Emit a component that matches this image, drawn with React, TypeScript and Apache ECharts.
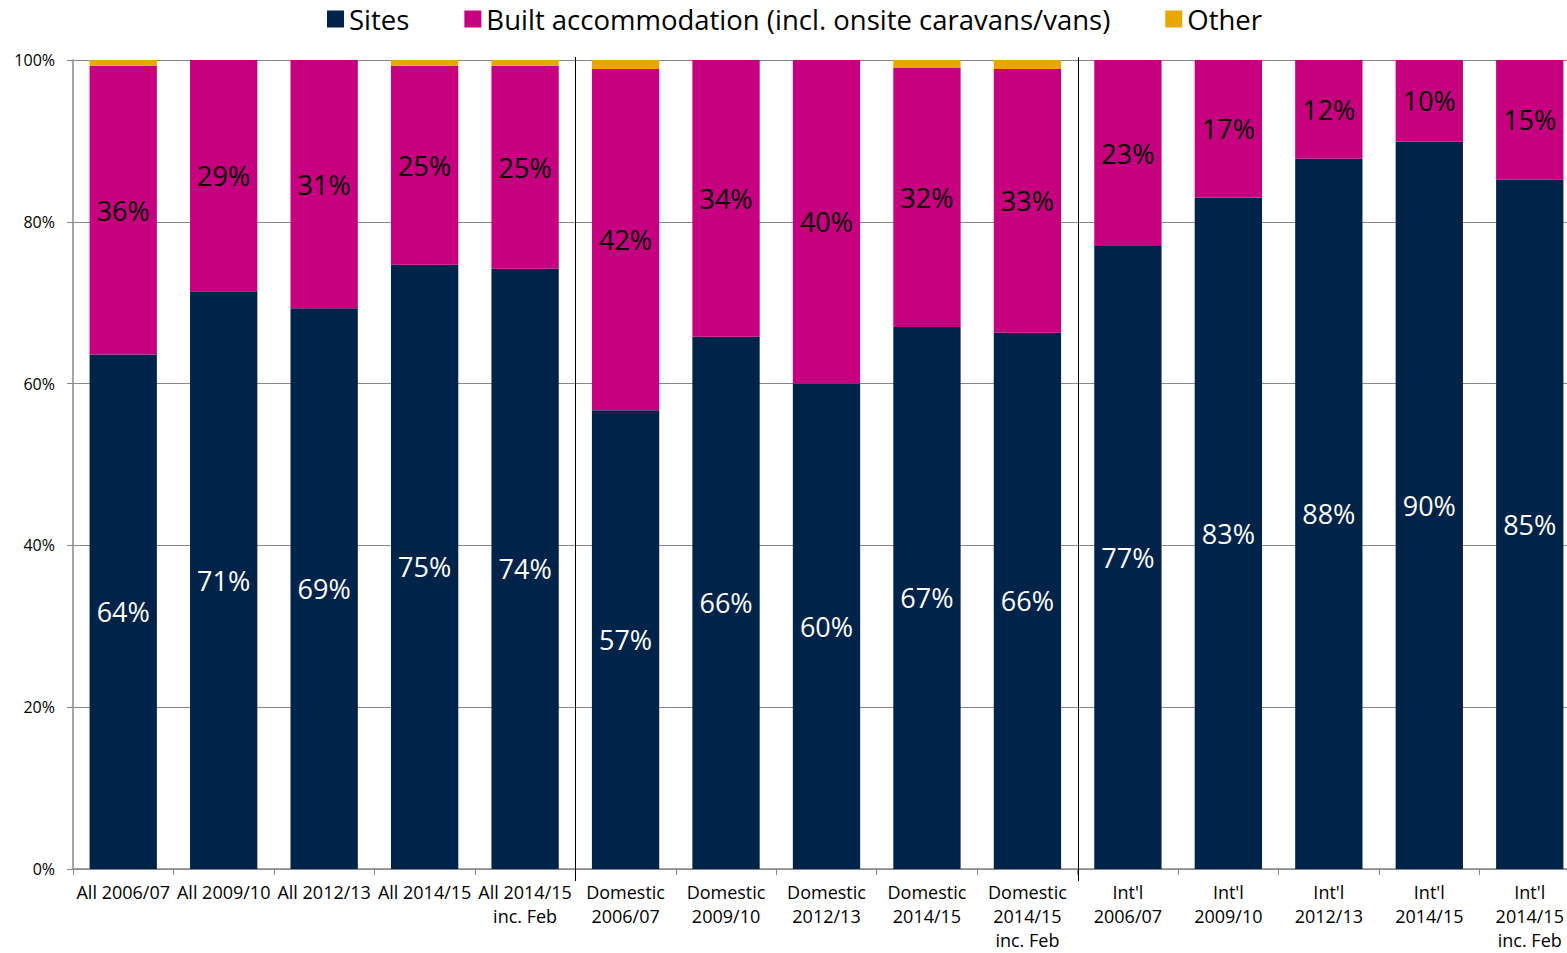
import React, { useEffect, useRef } from "react";
import * as echarts from "echarts";

const categories = [
  "All 2006/07",
  "All 2009/10",
  "All 2012/13",
  "All 2014/15",
  "All 2014/15\ninc. Feb",
  "Domestic\n2006/07",
  "Domestic\n2009/10",
  "Domestic\n2012/13",
  "Domestic\n2014/15",
  "Domestic\n2014/15\ninc. Feb",
  "Int'l\n2006/07",
  "Int'l\n2009/10",
  "Int'l\n2012/13",
  "Int'l\n2014/15",
  "Int'l\n2014/15\ninc. Feb",
];

const sites = [63.6, 71.4, 69.3, 74.7, 74.2, 56.7, 65.8, 60.0, 67.0, 66.3, 77.0, 83.0, 87.8, 89.9, 85.2];
const built = [35.7, 28.6, 30.7, 24.6, 25.1, 42.2, 34.2, 40.0, 32.0, 32.6, 23.0, 17.0, 12.2, 10.1, 14.8];
const other = [0.7, 0, 0, 0.7, 0.7, 1.1, 0, 0, 1.0, 1.1, 0, 0, 0, 0, 0];

const seriesNames = ["Sites", "Built accommodation (incl. onsite caravans/vans)", "Other"];
const yTicks = [0, 20, 40, 60, 80, 100];
const groupBreaks = [4, 9]; // separator after these category indices

const FONT = "'Open Sans', 'Noto Sans', sans-serif";
const C_SITES = "#00234A";
const C_BUILT = "#C6007E";
const C_OTHER = "#E8A700";

export default function App() {
  const ref = useRef<HTMLDivElement>(null);
  useEffect(() => {
    if (!ref.current) return;
    const chart = echarts.init(ref.current, null, { renderer: "svg" });
    const fmt = (p: any) => Math.round(p.value) + "%";
    chart.setOption({
      animation: false,
      textStyle: { fontFamily: FONT },
      legend: {
        top: 0,
        left: 322,
        itemWidth: 17,
        itemHeight: 17,
        itemGap: 55,
        icon: "rect",
        textStyle: { fontSize: 27.5, color: "#000", fontFamily: FONT },
        data: seriesNames,
      },
      grid: {
        left: 73,
        width: 1507,
        top: 60,
        height: 809,
        containLabel: false,
        outerBoundsMode: "none",
      },
      xAxis: {
        type: "category",
        data: categories,
        axisLine: { lineStyle: { color: "#888", width: 1.5 } },
        axisTick: { show: true, length: 6, lineStyle: { color: "#888" } },
        axisLabel: {
          interval: 0,
          fontSize: 18,
          lineHeight: 24,
          color: "#000",
          margin: 11,
          fontFamily: FONT,
          align: "center",
          hideOverlap: false,
        },
      },
      yAxis: {
        type: "value",
        min: yTicks[0],
        max: yTicks[yTicks.length - 1],
        interval: 20,
        axisLine: { show: true, lineStyle: { color: "#888", width: 1.5 } },
        axisTick: { show: true, length: 6, lineStyle: { color: "#888" } },
        axisLabel: { formatter: "{value}%", fontSize: 16, color: "#000", margin: 18, fontFamily: FONT },
        splitLine: { lineStyle: { color: "#888", width: 1 } },
      },
      series: [
        {
          name: seriesNames[0],
          type: "bar",
          stack: "s",
          data: sites,
          barWidth: "67%",
          itemStyle: { color: C_SITES },
          label: { show: true, position: "inside", color: "#fff", fontSize: 27, fontFamily: FONT, formatter: fmt },
        },
        {
          name: seriesNames[1],
          type: "bar",
          stack: "s",
          data: built,
          itemStyle: { color: C_BUILT },
          label: { show: true, position: "inside", color: "#000", fontSize: 27, fontFamily: FONT, formatter: fmt },
        },
        {
          name: seriesNames[2],
          type: "bar",
          stack: "s",
          data: other,
          itemStyle: { color: C_OTHER },
          label: { show: false },
        },
      ],
    });
    const y0 = chart.convertToPixel({ yAxisIndex: 0 }, 0) as number;
    const y1 = chart.convertToPixel({ yAxisIndex: 0 }, 100) as number;
    const lines = groupBreaks.map((i) => {
      const a = chart.convertToPixel({ xAxisIndex: 0 }, i) as number;
      const b = chart.convertToPixel({ xAxisIndex: 0 }, i + 1) as number;
      const x = Math.round((a + b) / 2) + 0.5;
      return {
        type: "line",
        shape: { x1: x, y1: y1 - 3, x2: x, y2: y0 + 12 },
        style: { stroke: "#000", lineWidth: 1 },
        z: 100,
      };
    });
    chart.setOption({ graphic: lines });
    return () => chart.dispose();
  }, []);
  return (
    <div
      ref={ref}
      style={{ position: "fixed", left: 0, top: 0, width: 1567, height: 953, background: "#fff" }}
    />
  );
}
